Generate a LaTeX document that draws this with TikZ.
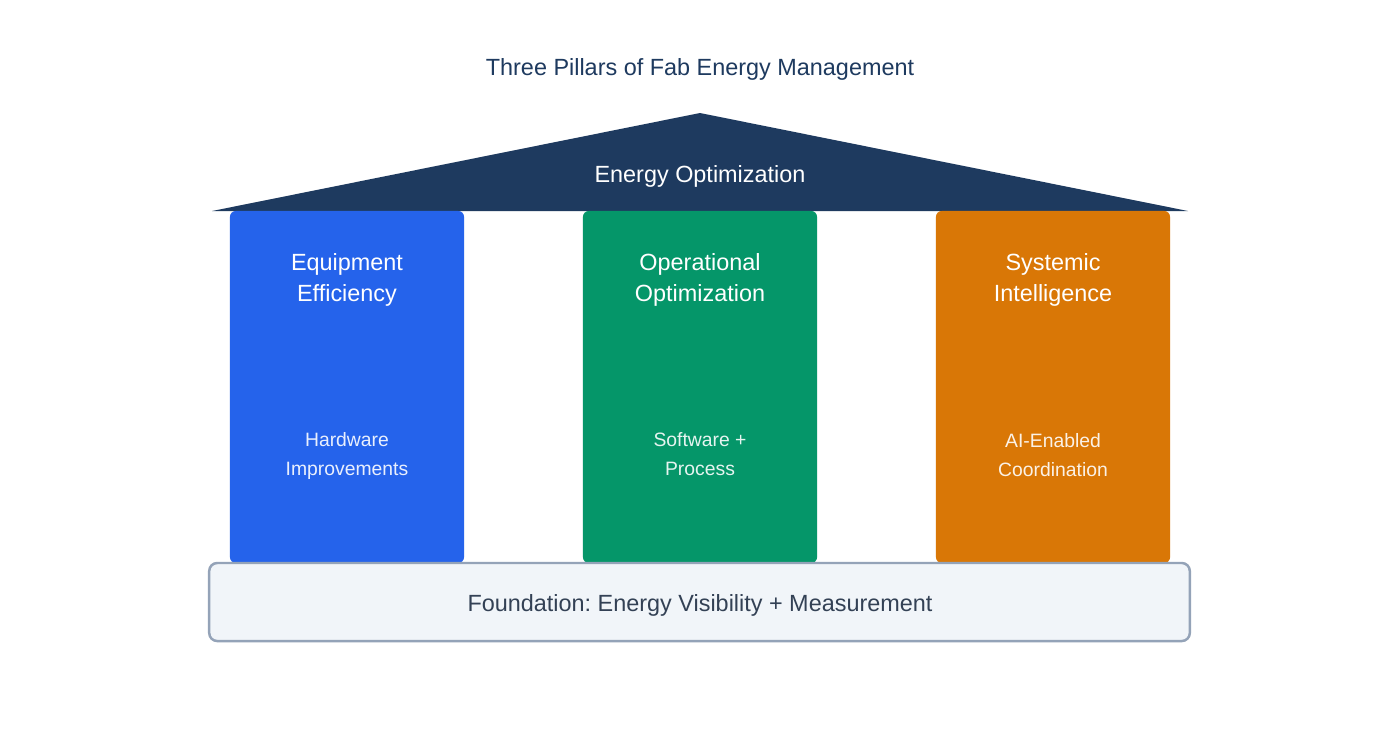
\documentclass[tikz,border=0pt]{standalone}
\usepackage{fontspec}
\setmainfont{Liberation Sans}
\usepackage{tikz}
\usetikzlibrary{shapes.geometric}
\definecolor{roofnavy}{HTML}{1E3A5F}
\definecolor{eqblue}{HTML}{2563EB}
\definecolor{opgreen}{HTML}{059669}
\definecolor{sysorange}{HTML}{D97706}
\definecolor{basefill}{HTML}{F1F5F9}
\definecolor{baseline}{HTML}{94A3B8}
\definecolor{basetext}{HTML}{334155}
\tikzstyle{pillar}=[rectangle, rounded corners=0.06cm, minimum width=2.34cm, minimum height=3.52cm, inner sep=0pt]
\tikzstyle{ptitle}=[text=white, align=center, font=\fontsize{6.66}{8.8}\selectfont]
\tikzstyle{psub}=[text=white, text opacity=0.9, align=center, font=\fontsize{5.5}{8.25}\selectfont]
\tikzstyle{bigtext}=[font=\fontsize{6.66}{8}\selectfont]
\frenchspacing

\begin{document}
\begin{tikzpicture}[x=0.01cm, y=-0.01cm]
\useasboundingbox[fill=white] (0,0) rectangle (1400,732);
\node[bigtext, text=roofnavy] (T) at (700,69){Three Pillars of Fab Energy Management};
% roof
\fill[roofnavy] (212,211) -- (700,113) -- (1188,211) -- cycle;
\node[bigtext, text=white] (R) at (700,176){Energy Optimization};
% pillars
\node[pillar, fill=eqblue] (P1) at (347,387){};
\node[pillar, fill=opgreen] (P2) at (700,387){};
\node[pillar, fill=sysorange] (P3) at (1053,387){};
\node[ptitle] (P1t) at (347,280){Equipment\\Efficiency};
\node[ptitle] (P2t) at (700,280){Operational\\Optimization};
\node[ptitle] (P3t) at (1053,280){Systemic\\Intelligence};
\node[psub] (P1s) at (347,456){Hardware\\Improvements};
\node[psub] (P2s) at (700,454){Software +\\Process};
\node[psub] (P3s) at (1053,455){AI-Enabled\\Coordination};
% foundation
\node[rectangle, rounded corners=0.08cm, draw=baseline, line width=0.7pt, fill=basefill,
  minimum width=9.8cm, minimum height=0.78cm, bigtext, text=basetext] (F) at (699.5,602){};
\node[bigtext, text=basetext] (Ft) at (700,605){Foundation: Energy Visibility + Measurement};
\end{tikzpicture}
\end{document}
